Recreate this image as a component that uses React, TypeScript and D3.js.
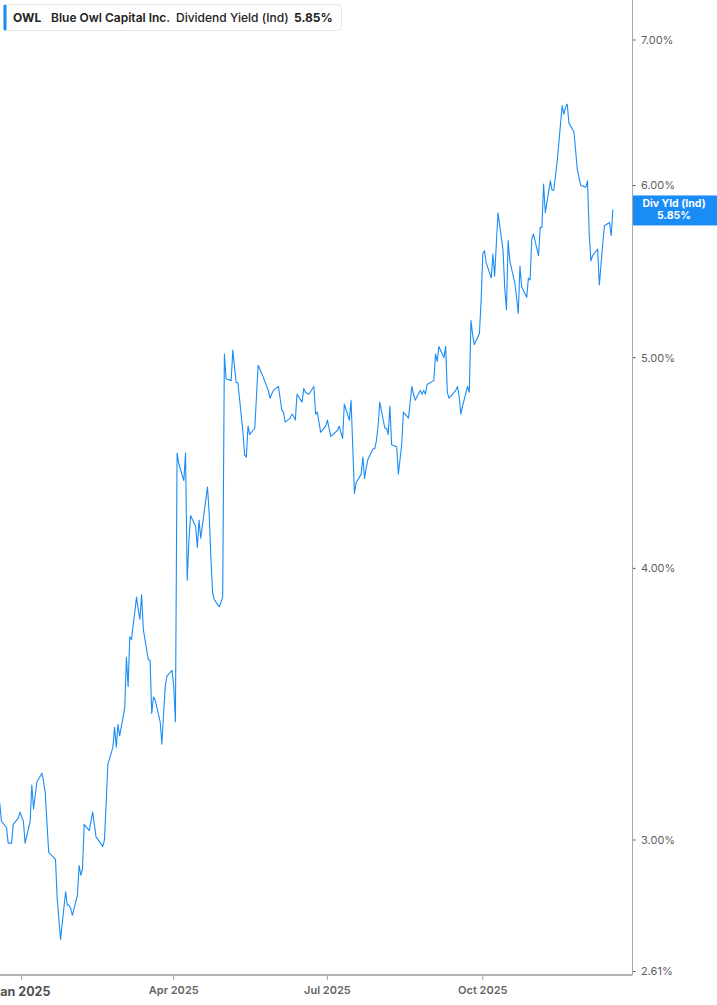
import React, { useRef, useEffect } from "react";
import * as d3 from "d3";

// Trading dates and indicated dividend yield (%)
const DATES = [
  "2024-12-19", "2024-12-20", "2024-12-23", "2024-12-24", "2024-12-26", "2024-12-27", "2024-12-30", "2024-12-31",
  "2025-01-02", "2025-01-03", "2025-01-06", "2025-01-07", "2025-01-08", "2025-01-10", "2025-01-13", "2025-01-14",
  "2025-01-15", "2025-01-16", "2025-01-17", "2025-01-21", "2025-01-22", "2025-01-23", "2025-01-24", "2025-01-27",
  "2025-01-28", "2025-01-29", "2025-01-30", "2025-01-31",
  "2025-02-03", "2025-02-04", "2025-02-05", "2025-02-06", "2025-02-07", "2025-02-10", "2025-02-11", "2025-02-12",
  "2025-02-13", "2025-02-14", "2025-02-18", "2025-02-19", "2025-02-20", "2025-02-21", "2025-02-24", "2025-02-25",
  "2025-02-26", "2025-02-27", "2025-02-28",
  "2025-03-03", "2025-03-04", "2025-03-05", "2025-03-06", "2025-03-07", "2025-03-10", "2025-03-11", "2025-03-12",
  "2025-03-13", "2025-03-14", "2025-03-17", "2025-03-18", "2025-03-19", "2025-03-20", "2025-03-21", "2025-03-24",
  "2025-03-25", "2025-03-26", "2025-03-27", "2025-03-28", "2025-03-31",
  "2025-04-01", "2025-04-02", "2025-04-03", "2025-04-04", "2025-04-07", "2025-04-08", "2025-04-09", "2025-04-10",
  "2025-04-11", "2025-04-14", "2025-04-15", "2025-04-16", "2025-04-17", "2025-04-21", "2025-04-22", "2025-04-23",
  "2025-04-24", "2025-04-25", "2025-04-28", "2025-04-29", "2025-04-30",
  "2025-05-01", "2025-05-02", "2025-05-05", "2025-05-06", "2025-05-07", "2025-05-08", "2025-05-09", "2025-05-12",
  "2025-05-13", "2025-05-14", "2025-05-15", "2025-05-16", "2025-05-19", "2025-05-20", "2025-05-21", "2025-05-22",
  "2025-05-23", "2025-05-27", "2025-05-28", "2025-05-29", "2025-05-30",
  "2025-06-02", "2025-06-03", "2025-06-04", "2025-06-05", "2025-06-06", "2025-06-09", "2025-06-10", "2025-06-11",
  "2025-06-12", "2025-06-13", "2025-06-16", "2025-06-17", "2025-06-18", "2025-06-20", "2025-06-23", "2025-06-24",
  "2025-06-25", "2025-06-26", "2025-06-27", "2025-06-30",
  "2025-07-01", "2025-07-02", "2025-07-03", "2025-07-07", "2025-07-08", "2025-07-09", "2025-07-10", "2025-07-11",
  "2025-07-14", "2025-07-15", "2025-07-16", "2025-07-17", "2025-07-18", "2025-07-21", "2025-07-22", "2025-07-23",
  "2025-07-24", "2025-07-25", "2025-07-28", "2025-07-29", "2025-07-30", "2025-07-31",
  "2025-08-01", "2025-08-04", "2025-08-05", "2025-08-06", "2025-08-07", "2025-08-08", "2025-08-11", "2025-08-12",
  "2025-08-13", "2025-08-14", "2025-08-15", "2025-08-18", "2025-08-19", "2025-08-20", "2025-08-21", "2025-08-22",
  "2025-08-25", "2025-08-26", "2025-08-27", "2025-08-28", "2025-08-29",
  "2025-09-02", "2025-09-03", "2025-09-04", "2025-09-05", "2025-09-08", "2025-09-09", "2025-09-10", "2025-09-11",
  "2025-09-12", "2025-09-15", "2025-09-16", "2025-09-17", "2025-09-18", "2025-09-19", "2025-09-22", "2025-09-23",
  "2025-09-24", "2025-09-25", "2025-09-26", "2025-09-29", "2025-09-30",
  "2025-10-01", "2025-10-02", "2025-10-03", "2025-10-06", "2025-10-07", "2025-10-08", "2025-10-09", "2025-10-10",
  "2025-10-13", "2025-10-14", "2025-10-15", "2025-10-16", "2025-10-17", "2025-10-20", "2025-10-21", "2025-10-22",
  "2025-10-23", "2025-10-24", "2025-10-27", "2025-10-28", "2025-10-29", "2025-10-30", "2025-10-31",
  "2025-11-03", "2025-11-04", "2025-11-05", "2025-11-06", "2025-11-07", "2025-11-10", "2025-11-11", "2025-11-12",
  "2025-11-13", "2025-11-14", "2025-11-17", "2025-11-18", "2025-11-19", "2025-11-20", "2025-11-21", "2025-11-24",
  "2025-11-25", "2025-11-26", "2025-11-28",
  "2025-12-01", "2025-12-02", "2025-12-03", "2025-12-04", "2025-12-05", "2025-12-08", "2025-12-09", "2025-12-10",
  "2025-12-11", "2025-12-12", "2025-12-15", "2025-12-16", "2025-12-17",
];

const YIELDS = [
  3.12, 3.06, 3.04, 2.99, 2.99, 3.05, 3.07, 3.09,
  3.06, 2.99, 3.06, 3.18, 3.10, 3.19, 3.22, 3.19,
  3.15, 3.05, 2.96, 2.94, 2.82, 2.76, 2.70, 2.84,
  2.80, 2.80, 2.79, 2.77,
  2.83, 2.92, 2.89, 2.91, 3.05, 3.03, 3.06, 3.09,
  3.05, 3.01, 2.98, 3.00, 3.12, 3.25, 3.31, 3.38,
  3.31, 3.39, 3.35,
  3.45, 3.64, 3.53, 3.72, 3.71, 3.88, 3.83, 3.79,
  3.89, 3.75, 3.63, 3.63, 3.43, 3.49, 3.48, 3.40,
  3.32, 3.43, 3.53, 3.57, 3.59,
  3.53, 3.40, 4.52, 4.47, 4.39, 4.52, 3.95, 4.12,
  4.23, 4.18, 4.09, 4.21, 4.13, 4.36, 4.24, 4.05,
  3.90, 3.87, 3.84, 3.86, 3.88,
  5.02, 4.89, 4.88, 5.04, 4.95, 4.87, 4.87, 4.62,
  4.51, 4.50, 4.65, 4.61, 4.64, 4.80, 4.96, 4.94,
  4.92, 4.83, 4.79, 4.81, 4.83,
  4.85, 4.79, 4.73, 4.72, 4.67, 4.69, 4.71, 4.70,
  4.68, 4.81, 4.77, 4.84, 4.82, 4.81, 4.85, 4.71,
  4.72, 4.67, 4.62, 4.65,
  4.68, 4.64, 4.60, 4.63, 4.65, 4.62, 4.59, 4.76,
  4.68, 4.78, 4.55, 4.33, 4.38, 4.42, 4.50, 4.40,
  4.45, 4.49, 4.54, 4.54, 4.58, 4.65,
  4.77, 4.64, 4.64, 4.61, 4.75, 4.56, 4.55, 4.42,
  4.49, 4.56, 4.72, 4.69, 4.77, 4.85, 4.81, 4.78,
  4.83, 4.81, 4.83, 4.81, 4.86,
  4.88, 5.02, 4.98, 5.06, 5.00, 5.06, 4.82, 4.79,
  4.80, 4.83, 4.85, 4.80, 4.71, 4.75, 4.85, 4.82,
  5.20, 5.12, 5.07, 5.13, 5.31,
  5.58, 5.60, 5.53, 5.44, 5.58, 5.45, 5.64, 5.83,
  5.60, 5.38, 5.26, 5.66, 5.54, 5.41, 5.33, 5.24,
  5.51, 5.39, 5.33, 5.44, 5.43, 5.67, 5.70,
  5.57, 5.74, 5.74, 6.01, 5.83, 6.03, 5.97, 5.97,
  6.06, 6.15, 6.53, 6.47, 6.52, 6.54, 6.41, 6.35,
  6.22, 6.10, 6.00,
  5.99, 6.03, 5.70, 5.54, 5.57, 5.61, 5.40, 5.52,
  5.64, 5.75, 5.77, 5.69, 5.85,
];

const Y_TICKS = [7, 6, 5, 4, 3, 2.61];
const X_TICKS = ["2025-01-01", "2025-04-01", "2025-07-01", "2025-10-01"];
const X_TICK_LABELS = ["Jan 2025", "Apr 2025", "Jul 2025", "Oct 2025"];

const LEGEND_TICKER = "OWL";
const LEGEND_NAME = "Blue Owl Capital Inc.";
const LEGEND_METRIC = "Dividend Yield (Ind)";
const LAST_LABEL = "Div Yld (Ind)";

const BLUE = "#1a8cf5";
const WIDTH = 717;
const HEIGHT = 1005;

export default function App() {
  const svgRef = useRef<SVGSVGElement>(null);

  useEffect(() => {
    if (!svgRef.current) return;
    document.body.style.margin = "0";

    const svg = d3.select(svgRef.current);
    svg.selectAll("*").remove();

    const plotRight = 632.5;
    const plotBottom = 975;
    const font = "Inter, 'Noto Sans', sans-serif";

    const parse = d3.timeParse("%Y-%m-%d");
    const data = DATES.map((d, i) => ({ date: parse(d) as Date, value: YIELDS[i] }));

    // scales
    const x = d3
      .scaleTime()
      .domain([parse("2025-01-01") as Date, parse("2025-10-01") as Date])
      .range([21.7, 482.8]);
    const y = d3.scaleLog().domain([3, 7]).range([840, 40]);

    svg.append("rect").attr("width", WIDTH).attr("height", HEIGHT).attr("fill", "#fff");

    svg
      .append("clipPath")
      .attr("id", "plot-clip")
      .append("rect")
      .attr("x", 0)
      .attr("y", 0)
      .attr("width", plotRight)
      .attr("height", plotBottom);

    // line
    const line = d3
      .line<{ date: Date; value: number }>()
      .x((d) => x(d.date))
      .y((d) => y(d.value));

    svg
      .append("path")
      .datum(data)
      .attr("d", line)
      .attr("fill", "none")
      .attr("stroke", BLUE)
      .attr("stroke-width", 1.1)
      .attr("stroke-linejoin", "round")
      .attr("clip-path", "url(#plot-clip)");

    // right axis
    svg
      .append("line")
      .attr("x1", plotRight)
      .attr("x2", plotRight)
      .attr("y1", 0)
      .attr("y2", plotBottom)
      .attr("stroke", "#a8a8a8")
      .attr("stroke-width", 1);

    const yt = svg.append("g");
    Y_TICKS.forEach((v) => {
      yt.append("line")
        .attr("x1", plotRight + 0.5)
        .attr("x2", plotRight + 3)
        .attr("y1", y(v))
        .attr("y2", y(v))
        .attr("stroke", "#555")
        .attr("stroke-width", 1);
      yt.append("text")
        .attr("x", 641)
        .attr("y", y(v))
        .attr("dy", "0.35em")
        .style("font-family", font)
        .style("font-size", "11px")
        .style("fill", "#5f5f5f")
        .text(`${v.toFixed(2)}%`);
    });

    // bottom axis
    svg
      .append("line")
      .attr("x1", 0)
      .attr("x2", plotRight)
      .attr("y1", plotBottom)
      .attr("y2", plotBottom)
      .attr("stroke", "#b3b3b3")
      .attr("stroke-width", 2);

    X_TICKS.forEach((t, i) => {
      const tx = x(parse(t) as Date);
      svg
        .append("line")
        .attr("x1", tx)
        .attr("x2", tx)
        .attr("y1", plotBottom)
        .attr("y2", plotBottom + 5)
        .attr("stroke", "#a0a0a0")
        .attr("stroke-width", 1);
      const first = i === 0;
      svg
        .append("text")
        .attr("x", tx)
        .attr("y", first ? 996 : 994)
        .attr("text-anchor", "middle")
        .style("font-family", font)
        .style("font-size", first ? "12.5px" : "11px")
        .style("font-weight", first ? 700 : 600)
        .style("fill", first ? "#505050" : "#666")
        .text(X_TICK_LABELS[i]);
    });

    // last value label
    const last = data[data.length - 1];
    const ly = y(last.value);
    svg
      .append("rect")
      .attr("x", plotRight + 0.5)
      .attr("y", ly - 14)
      .attr("width", WIDTH - plotRight)
      .attr("height", 30)
      .attr("fill", BLUE);
    svg
      .append("text")
      .attr("x", 674)
      .attr("y", ly - 2)
      .attr("text-anchor", "middle")
      .style("font-family", font)
      .style("font-size", "10.5px")
      .style("font-weight", 700)
      .style("fill", "#fff")
      .text(LAST_LABEL);
    svg
      .append("text")
      .attr("x", 674)
      .attr("y", ly + 9.5)
      .attr("text-anchor", "middle")
      .style("font-family", font)
      .style("font-size", "10.5px")
      .style("font-weight", 700)
      .style("fill", "#fff")
      .text(`${last.value.toFixed(2)}%`);

    // legend
    const lg = svg.append("g");
    lg.append("rect")
      .attr("x", 3.5)
      .attr("y", 4.5)
      .attr("width", 338)
      .attr("height", 26)
      .attr("rx", 4)
      .attr("fill", "#fff")
      .attr("stroke", "#e6e6e6");
    lg.append("rect")
      .attr("x", 3.5)
      .attr("y", 4.5)
      .attr("width", 3)
      .attr("height", 26)
      .attr("rx", 1.5)
      .attr("fill", BLUE);

    const legendItems = [
      { text: LEGEND_TICKER, x: 13, weight: 700 },
      { text: LEGEND_NAME, x: 51, weight: 600 },
      { text: LEGEND_METRIC, x: 176, weight: 500 },
      { text: `${last.value.toFixed(2)}%`, x: 294, weight: 700 },
    ];
    legendItems.forEach((it) => {
      lg.append("text")
        .attr("x", it.x)
        .attr("y", 21.5)
        .style("font-family", font)
        .style("font-size", "12px")
        .style("font-weight", it.weight)
        .style("fill", "#222")
        .text(it.text);
    });
  }, []);

  return (
    <svg
      ref={svgRef}
      width={WIDTH}
      height={HEIGHT}
      style={{ display: "block", position: "absolute", left: 0, top: 0 }}
      viewBox={`0 0 ${WIDTH} ${HEIGHT}`}
    />
  );
}
